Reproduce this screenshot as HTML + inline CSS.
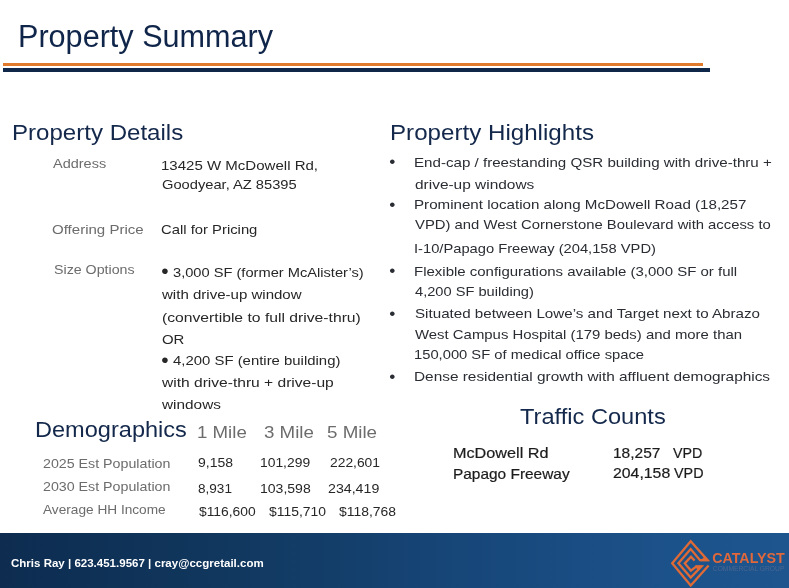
<!DOCTYPE html>
<html><head><meta charset="utf-8"><title>Property Summary</title>
<style>
html,body{margin:0;padding:0;}
body{width:789px;height:588px;position:relative;overflow:hidden;background:#fff;font-family:"Liberation Sans",sans-serif;}
.t{position:absolute;white-space:nowrap;line-height:1;margin:0;transform-origin:0 0;}

.l1{position:absolute;left:3.4px;top:63.3px;width:699.4px;height:2.5px;background:#e07a2c;}
.l2{position:absolute;left:3.4px;top:67.6px;width:706.6px;height:4.1px;background:#0f2748;}
.footer{position:absolute;left:0;top:533.2px;width:789px;height:55px;background:linear-gradient(90deg,#0d2c50 0%,#11385f 30%,#17477a 60%,#1c528a 85%,#1e558e 100%);}
.logo{position:absolute;left:660px;top:533px;}
</style></head><body>
<div class="l1"></div><div class="l2"></div>
<div class="footer"></div>
<svg class="logo" width="129" height="55" viewBox="660 533 129 55">
<g fill="none" stroke="#df6a35" stroke-width="2.3" stroke-linejoin="miter" stroke-linecap="butt">
<polyline points="708.6,565.6 690.7,585.6 672.2,563.2 690.7,541.2 707.6,560.2 700,560.2 690.7,549 678.4,563.3 690.7,577.6 701.5,566.4 696.5,566.4 690.9,570.6 684.8,563.4 691,556.7 694.6,560.6"/>
</g>
<polygon points="708.8,561.2 700,561.2 703.5,557.5 706,557.8" fill="#df6a35"/>
<polygon points="702.6,565.4 695,565.4 697,569.2 699.5,568.8" fill="#df6a35"/>
<text x="712.2" y="562.9" font-family="Liberation Sans, sans-serif" font-weight="bold" font-size="13.8" fill="#e0683a" textLength="72.6" lengthAdjust="spacingAndGlyphs">CATALYST</text>
<text x="712.8" y="570.7" font-family="Liberation Sans, sans-serif" font-size="6.6" fill="#4a6690" textLength="71.6" lengthAdjust="spacingAndGlyphs">COMMERCIAL GROUP</text>
</svg>
<div class="t" style="left:17.91px;top:21.00px;font-size:30.6px;transform:scaleX(1.0001);color:#10254a">Property Summary</div>
<div class="t" style="left:11.52px;top:122.45px;font-size:23.0px;transform:scale(1.0465,0.945);color:#13284b">Property Details</div>
<div class="t" style="left:389.71px;top:122.45px;font-size:23.0px;transform:scale(1.0496,0.945);color:#13284b">Property Highlights</div>
<div class="t" style="left:34.86px;top:419.30px;font-size:23.0px;transform:scale(1.0242,0.945);color:#13284b">Demographics</div>
<div class="t" style="left:520.03px;top:406.06px;font-size:23.2px;transform:scale(1.0188,0.96);color:#13284b">Traffic Counts</div>
<div class="t" style="left:53.20px;top:157.00px;font-size:13.4px;transform:scaleX(1.0813);color:#6c6c6c">Address</div>
<div class="t" style="left:52.39px;top:223.00px;font-size:13.4px;transform:scaleX(1.1229);color:#6c6c6c">Offering Price</div>
<div class="t" style="left:53.76px;top:263.00px;font-size:13.4px;transform:scaleX(1.0621);color:#6c6c6c">Size Options</div>
<div class="t" style="left:161.26px;top:159.00px;font-size:13.4px;transform:scaleX(1.1225);color:#272727">13425 W McDowell Rd,</div>
<div class="t" style="left:161.51px;top:178.00px;font-size:13.4px;transform:scaleX(1.0964);color:#272727">Goodyear, AZ 85395</div>
<div class="t" style="left:161.30px;top:223.00px;font-size:13.4px;transform:scaleX(1.1068);color:#272727">Call for Pricing</div>
<div class="t" style="left:173.14px;top:266.00px;font-size:13.4px;transform:scaleX(1.0936);color:#272727">3,000 SF (former McAlister’s)</div>
<div class="t" style="left:162.14px;top:288.00px;font-size:13.4px;transform:scaleX(1.1231);color:#272727">with drive-up window</div>
<div class="t" style="left:161.66px;top:311.00px;font-size:13.4px;transform:scaleX(1.1717);color:#272727">(convertible to full drive-thru)</div>
<div class="t" style="left:161.50px;top:333.00px;font-size:13.4px;transform:scaleX(1.1132);color:#272727">OR</div>
<div class="t" style="left:173.37px;top:354.00px;font-size:13.4px;transform:scaleX(1.1133);color:#272727">4,200 SF (entire building)</div>
<div class="t" style="left:162.14px;top:376.00px;font-size:13.4px;transform:scaleX(1.1627);color:#272727">with drive-thru + drive-up</div>
<div class="t" style="left:162.14px;top:398.00px;font-size:13.4px;transform:scaleX(1.1470);color:#272727">windows</div>
<div class="t" style="left:197.23px;top:424.00px;font-size:17.2px;transform:scaleX(1.0860);color:#6c6c6c">1 Mile</div>
<div class="t" style="left:264.21px;top:424.00px;font-size:17.2px;transform:scaleX(1.0886);color:#6c6c6c">3 Mile</div>
<div class="t" style="left:327.01px;top:424.00px;font-size:17.2px;transform:scaleX(1.0908);color:#6c6c6c">5 Mile</div>
<div class="t" style="left:42.73px;top:457.00px;font-size:13.4px;transform:scaleX(1.0627);color:#6c6c6c">2025 Est Population</div>
<div class="t" style="left:42.73px;top:480.00px;font-size:13.4px;transform:scaleX(1.0627);color:#6c6c6c">2030 Est Population</div>
<div class="t" style="left:43.40px;top:503.00px;font-size:13.4px;transform:scaleX(1.0195);color:#6c6c6c">Average HH Income</div>
<div class="t" style="left:198.14px;top:456.00px;font-size:13.4px;transform:scaleX(1.0445);color:#272727">9,158</div>
<div class="t" style="left:259.63px;top:456.00px;font-size:13.4px;transform:scaleX(1.0349);color:#272727">101,299</div>
<div class="t" style="left:330.35px;top:456.00px;font-size:13.4px;transform:scaleX(1.0324);color:#272727">222,601</div>
<div class="t" style="left:198.38px;top:482.00px;font-size:13.4px;transform:scaleX(1.0132);color:#272727">8,931</div>
<div class="t" style="left:259.62px;top:482.00px;font-size:13.4px;transform:scaleX(1.0477);color:#272727">103,598</div>
<div class="t" style="left:328.23px;top:482.00px;font-size:13.4px;transform:scaleX(1.0599);color:#272727">234,419</div>
<div class="t" style="left:198.80px;top:505.00px;font-size:13.4px;transform:scaleX(1.0337);color:#272727">$116,600</div>
<div class="t" style="left:269.00px;top:505.00px;font-size:13.4px;transform:scaleX(1.0392);color:#272727">$115,710</div>
<div class="t" style="left:339.00px;top:505.00px;font-size:13.4px;transform:scaleX(1.0395);color:#272727">$118,768</div>
<div class="t" style="left:413.82px;top:156.00px;font-size:13.4px;transform:scaleX(1.1297);color:#2a2d33">End-cap / freestanding QSR building with drive-thru +</div>
<div class="t" style="left:414.52px;top:178.00px;font-size:13.4px;transform:scaleX(1.1530);color:#2a2d33">drive-up windows</div>
<div class="t" style="left:413.82px;top:198.00px;font-size:13.4px;transform:scaleX(1.1304);color:#2a2d33">Prominent location along McDowell Road (18,257</div>
<div class="t" style="left:415.00px;top:218.00px;font-size:13.4px;transform:scaleX(1.1073);color:#2a2d33">VPD) and West Cornerstone Boulevard with access to</div>
<div class="t" style="left:413.85px;top:242.00px;font-size:13.4px;transform:scaleX(1.0981);color:#2a2d33">I-10/Papago Freeway (204,158 VPD)</div>
<div class="t" style="left:413.83px;top:265.00px;font-size:13.4px;transform:scaleX(1.1189);color:#2a2d33">Flexible configurations available (3,000 SF or full</div>
<div class="t" style="left:414.77px;top:285.00px;font-size:13.4px;transform:scaleX(1.0931);color:#2a2d33">4,200 SF building)</div>
<div class="t" style="left:414.53px;top:307.00px;font-size:13.4px;transform:scaleX(1.1323);color:#2a2d33">Situated between Lowe’s and Target next to Abrazo</div>
<div class="t" style="left:415.00px;top:328.00px;font-size:13.4px;transform:scaleX(1.1132);color:#2a2d33">West Campus Hospital (179 beds) and more than</div>
<div class="t" style="left:414.08px;top:348.00px;font-size:13.4px;transform:scaleX(1.1007);color:#2a2d33">150,000 SF of medical office space</div>
<div class="t" style="left:413.80px;top:370.00px;font-size:13.4px;transform:scaleX(1.1480);color:#2a2d33">Dense residential growth with affluent demographics</div>
<div class="t" style="left:452.63px;top:446.00px;font-size:14.5px;transform:scaleX(1.1179);color:#1c1c1c;-webkit-text-stroke:0.2px #1c1c1c">McDowell Rd</div>
<div class="t" style="left:452.70px;top:467.00px;font-size:14.5px;transform:scaleX(1.0637);color:#1c1c1c;-webkit-text-stroke:0.2px #1c1c1c">Papago Freeway</div>
<div class="t" style="left:612.63px;top:446.00px;font-size:14.5px;transform:scaleX(1.0687);color:#1c1c1c;-webkit-text-stroke:0.2px #1c1c1c">18,257</div>
<div class="t" style="left:673.40px;top:446.00px;font-size:14.5px;transform:scaleX(0.9825);color:#1c1c1c;-webkit-text-stroke:0.2px #1c1c1c">VPD</div>
<div class="t" style="left:612.86px;top:466.00px;font-size:14.5px;transform:scaleX(1.0910);color:#1c1c1c;-webkit-text-stroke:0.2px #1c1c1c">204,158</div>
<div class="t" style="left:674.00px;top:466.00px;font-size:14.5px;transform:scaleX(0.9894);color:#1c1c1c;-webkit-text-stroke:0.2px #1c1c1c">VPD</div>
<div class="t" style="left:11.46px;top:557.00px;font-size:11.7px;transform:scaleX(0.9855);color:#ffffff;font-weight:bold">Chris Ray | 623.451.9567 | cray@ccgretail.com</div>
<div class="t" style="left:389.15px;top:153.14px;font-size:17.4px;color:#2a2d33">•</div>
<div class="t" style="left:389.15px;top:196.14px;font-size:17.4px;color:#2a2d33">•</div>
<div class="t" style="left:389.15px;top:261.94px;font-size:17.4px;color:#2a2d33">•</div>
<div class="t" style="left:389.15px;top:304.84px;font-size:17.4px;color:#2a2d33">•</div>
<div class="t" style="left:389.15px;top:367.54px;font-size:17.4px;color:#2a2d33">•</div>
<div class="t" style="left:161.32px;top:260.48px;font-size:21px;color:#272727">•</div>
<div class="t" style="left:161.32px;top:349.19px;font-size:21px;color:#272727">•</div>
</body></html>
